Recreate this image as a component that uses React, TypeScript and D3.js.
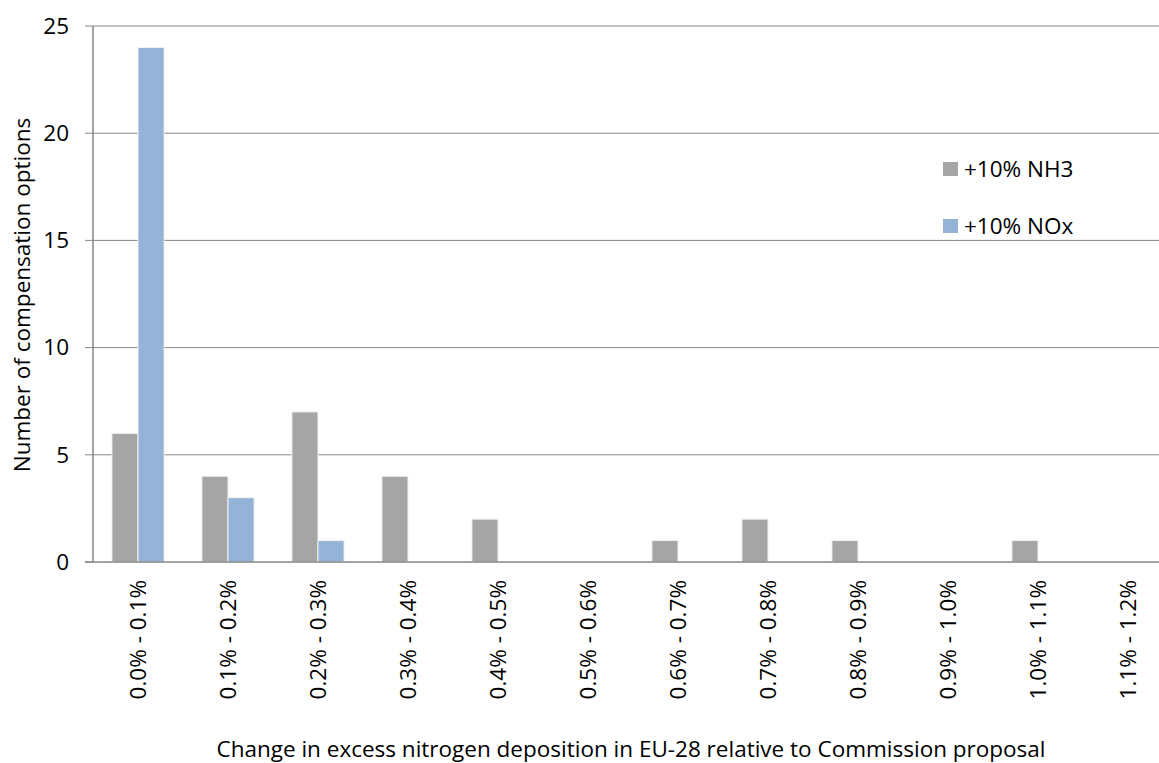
import React, { useEffect, useRef } from 'react';
import * as d3 from 'd3';

const width = 1159,
  height = 763;

const categories = [
  '0.0% - 0.1%', '0.1% - 0.2%', '0.2% - 0.3%', '0.3% - 0.4%', '0.4% - 0.5%', '0.5% - 0.6%',
  '0.6% - 0.7%', '0.7% - 0.8%', '0.8% - 0.9%', '0.9% - 1.0%', '1.0% - 1.1%', '1.1% - 1.2%',
];
const nh3Values = [6, 4, 7, 4, 2, 0, 1, 2, 1, 0, 1, 0];
const noxValues = [24, 3, 1, 0, 0, 0, 0, 0, 0, 0, 0, 0];
const seriesNames = ['+10% NH3', '+10% NOx'];
const seriesColors = ['#A5A5A5', '#95B3D7'];
const yTicks = [0, 5, 10, 15, 20, 25];

const FONT = "'Open Sans', 'Noto Sans', sans-serif";
const FS = 22.5;

const App = () => {
  const ref = useRef<SVGSVGElement>(null);

  useEffect(() => {
    const svg = d3.select(ref.current);
    svg.selectAll('*').remove();

    const left = 93, top = 26, bottom = 562;
    const band = 90;
    const right = left + band * categories.length;

    const x = d3.scaleBand().domain(categories).range([left, right]).paddingInner(0.42).paddingOuter(0.21);
    const xs = d3.scaleBand().domain(seriesNames).range([0, x.bandwidth()]);
    const y = d3.scaleLinear().domain([0, 25]).range([bottom, top]);

    // gridlines
    svg.append('g').selectAll('line').data(yTicks.filter(t => t > 0)).enter().append('line')
      .attr('x1', left).attr('x2', width)
      .attr('y1', d => y(d)).attr('y2', d => y(d))
      .attr('stroke', '#868686').attr('stroke-width', 1);

    // y tick marks and labels
    const yg = svg.append('g');
    yg.selectAll('line').data(yTicks).enter().append('line')
      .attr('x1', left - 8).attr('x2', left)
      .attr('y1', d => y(d)).attr('y2', d => y(d))
      .attr('stroke', '#868686');
    yg.selectAll('text').data(yTicks).enter().append('text')
      .attr('x', 69).attr('y', d => y(d)).attr('dy', '0.35em')
      .attr('text-anchor', 'end').attr('font-size', FS).attr('font-family', FONT)
      .text(d => d);

    // bars
    const series = [nh3Values, noxValues];
    series.forEach((vals, si) => {
      svg.append('g').selectAll('rect').data(vals).enter().append('rect')
        .attr('x', (d, i) => (x(categories[i]) ?? 0) + (xs(seriesNames[si]) ?? 0))
        .attr('y', d => y(d))
        .attr('width', xs.bandwidth())
        .attr('height', d => bottom - y(d))
        .attr('fill', seriesColors[si])
        .attr('stroke', d => (d > 0 ? '#f2f2f2' : 'none'))
        .attr('stroke-width', 1);
    });

    // axes lines
    svg.append('line').attr('x1', left).attr('x2', left).attr('y1', top).attr('y2', bottom)
      .attr('stroke', '#868686').attr('stroke-width', 1.5);
    svg.append('line').attr('x1', left - 8).attr('x2', width).attr('y1', bottom).attr('y2', bottom)
      .attr('stroke', '#868686').attr('stroke-width', 1.5);

    // x labels
    svg.append('g').selectAll('text').data(categories).enter().append('text')
      .attr('transform', d => `translate(${(x(d) ?? 0) + x.bandwidth() / 2},580) rotate(-90)`)
      .attr('dy', '0.35em')
      .attr('text-anchor', 'end').attr('font-size', FS).attr('font-family', FONT)
      .text(d => d);

    // axis titles
    svg.append('text')
      .attr('x', 631).attr('y', 757).attr('text-anchor', 'middle')
      .attr('font-size', FS).attr('font-family', FONT)
      .text('Change in excess nitrogen deposition in EU-28 relative to Commission proposal');
    svg.append('text')
      .attr('transform', 'translate(22,295) rotate(-90)').attr('text-anchor', 'middle')
      .attr('dy', '0.35em')
      .attr('font-size', FS).attr('font-family', FONT)
      .text('Number of compensation options');

    // legend
    const lg = svg.append('g').selectAll('g').data(seriesNames).enter().append('g')
      .attr('transform', (d, i) => `translate(943,${162 + i * 57})`);
    lg.append('rect').attr('width', 15).attr('height', 14).attr('fill', (d, i) => seriesColors[i]);
    lg.append('text').attr('x', 21).attr('y', 7).attr('dy', '0.36em')
      .attr('font-size', FS).attr('font-family', FONT).text(d => d);
  }, []);

  return (
    <svg ref={ref} width={width} height={height} viewBox={`0 0 ${width} ${height}`}
      style={{ position: 'absolute', left: 0, top: 0, background: '#fff' }} />
  );
};

export default App;
